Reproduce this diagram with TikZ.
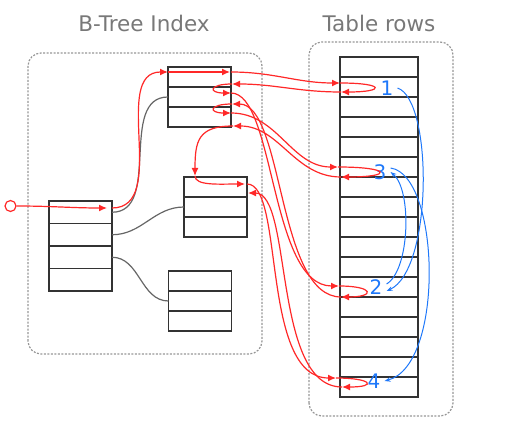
\documentclass[tikz,border=0pt]{standalone}
\usepackage{fontspec}
\setmainfont{DejaVu Sans}
\usetikzlibrary{arrows.meta}
\definecolor{scanred}{RGB}{255,40,40}
\definecolor{rowblue}{RGB}{30,120,250}
\definecolor{boxgray}{RGB}{150,150,150}
\definecolor{titlegray}{RGB}{120,120,120}
\begin{document}
\begin{tikzpicture}[x=1pt, y=1pt,
	cell/.style = {draw=black!80, line width=1.2pt, minimum width=63pt, minimum height=20pt, inner sep=0pt, outer sep=0pt},
	rootcell/.style = {cell, minimum height=22.5pt},
	rowcell/.style = {cell, minimum width=78pt},
	frame/.style = {draw=boxgray, line width=1.2pt, dash pattern=on 2pt off 1.5pt, rounded corners=13pt},
	title/.style = {text=titlegray, font=\fontsize{21.5}{24}\selectfont, anchor=base},
	num/.style = {text=rowblue, font=\fontsize{20}{22}\selectfont, inner sep=4pt},
	link/.style = {draw=black!60, line width=1.2pt},
	scan/.style = {draw=scanred, line width=1.2pt, -{Latex[length=8pt,width=7pt]}},
	hop/.style = {draw=rowblue, line width=1pt, -{Stealth[length=6pt,width=4.5pt]}}]
		\useasboundingbox (0,0) rectangle (510,426);
		% Kehykset
		\draw[frame] (28,72) rectangle (262,373);
		\draw[frame] (309,10) rectangle (453,384);
		\node[title] (ttree) at (144,394) {B-Tree Index};
		\node[title] (trows) at (379,394) {Table rows};
		% Indeksi
		\foreach \i/\y in {1/213.75, 2/191.25, 3/168.75, 4/146.25}
			\node[rootcell] (r\i) at (80.5,\y) {};
		\foreach \i/\y in {1/349, 2/329, 3/309}
			\node[cell] (a\i) at (199.5,\y) {};
		\foreach \i/\y in {1/239, 2/219, 3/199}
			\node[cell] (b\i) at (215.5,\y) {};
		\foreach \i/\y in {1/145, 2/125, 3/105}
			\node[cell] (c\i) at (200,\y) {};
		% Taulu
		\foreach \i in {1,...,17}
			\node[rowcell] (row\i) at (379,{359-20*(\i-1)}) {};
		\node[num] (n1) at (387,338) {1};
		\node[num] (n3) at (380,254) {3};
		\node[num] (n2) at (376,139) {2};
		\node[num] (n4) at (374,45) {4};
		% Puun kaaret
		\draw[link] (r1.east) to[out=0,in=180] (a2.west);	% r1-a
		\draw[link] (r2.east) to[out=0,in=180] (b2.west);	% r2-b
		\draw[link] (r3.east) to[out=0,in=180] (c2.west);	% r3-c
		% Haku
		\node[draw=scanred, line width=1.2pt, circle, minimum size=11pt, inner sep=0pt] (start) at (10.5,220) {};
		\coordinate (s0) at (107,218);
		\coordinate (s1) at (112,218);
		\coordinate (a1in) at (168,354);
		\coordinate (a1tip) at (230,354);
		\coordinate (a1out) at (231,354);
		\coordinate (in1) at (340,343);
		\coordinate (back1) at (341,334);
		\coordinate (ret1) at (232,342);
		\coordinate (go2) at (231,333);
		\coordinate (in2) at (339,140);
		\coordinate (back2) at (341,129);
		\coordinate (ret2) at (232,322);
		\coordinate (go3) at (231,313);
		\coordinate (in3) at (338,259);
		\coordinate (back3) at (341,249);
		\coordinate (ret3) at (233,300);
		\coordinate (btop) at (195,250);
		\coordinate (go4) at (245,242);
		\coordinate (b1out) at (247,242);
		\coordinate (in4) at (336,48);
		\coordinate (back4) at (342,39);
		\coordinate (ret4) at (248,233);
		\draw[scan] (start) to[out=0,in=180] (s0);
		\draw[scan] (s1) to[out=0,in=180] (a1in);
		\draw[scan] (a1in) -- (a1tip);
		\draw[scan] (a1out) to[out=0,in=180] (in1);	% a1-1
		\draw[scan] (in1) .. controls +(45,0) and +(45,0) .. (back1);
		\draw[scan] (back1) to[out=180,in=0] (ret1);
		\draw[scan] (ret1) .. controls +(-23,0) and +(-23,0) .. (go2);
		\draw[scan] (go2) .. controls +(44,0) and +(-69,0) .. (in2);	% a2-2
		\draw[scan] (in2) .. controls +(35,0) and +(35,0) .. (back2);
		\draw[scan] (back2) .. controls +(-64,0) and +(52,0) .. (ret2);
		\draw[scan] (ret2) .. controls +(-23,0) and +(-23,0) .. (go3);
		\draw[scan] (go3) to[out=0,in=180] (in3);	% a3-3
		\draw[scan] (in3) .. controls +(53,0) and +(53,0) .. (back3);
		\draw[scan] (back3) to[out=180,in=0] (ret3);
		\draw[scan] (ret3) .. controls +(-35,0) and +(0,35) .. (btop);	% a-b
		\draw[scan] (btop) .. controls +(0,-10) and +(-25,0) .. (go4);
		\draw[scan] (b1out) .. controls +(38,0) and +(-76,0) .. (in4);	% b1-4
		\draw[scan] (in4) .. controls +(36,0) and +(36,0) .. (back4);
		\draw[scan] (back4) .. controls +(-70,0) and +(45,0) .. (ret4);
		% Rivijärjestys
		\draw[hop] (n1.east) .. controls (433,326) and (433,156) .. ([yshift=-4pt]n2.east);	% 1-2
		\draw[hop] ([yshift=3pt]n2.east) .. controls (410,156) and (412,236) .. (n3.east);	% 2-3
		\draw[hop] ([yshift=4pt]n3.east) .. controls (440,251) and (445,61) .. (n4.east);	% 3-4
		\end{tikzpicture}
\end{document}
